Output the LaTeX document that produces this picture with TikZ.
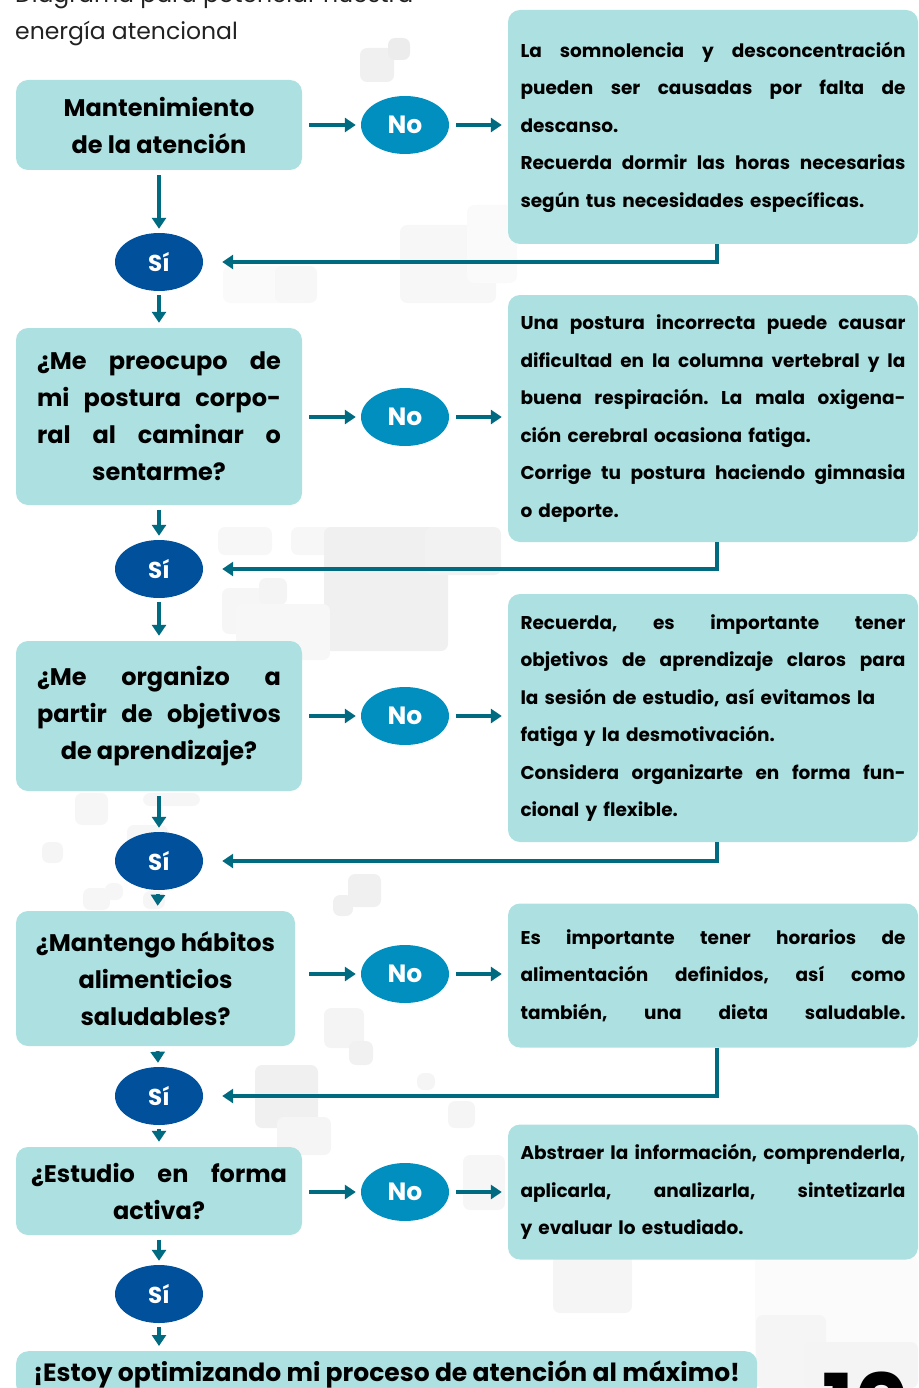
\documentclass[tikz,border=0pt]{standalone}
\usepackage{fontspec}
\setmainfont{Poppins}
\usetikzlibrary{shapes.geometric,arrows.meta}

\definecolor{boxfill}{HTML}{ACE0E1}
\definecolor{nofill}{HTML}{008FBF}
\definecolor{sifill}{HTML}{00509B}
\definecolor{flowcol}{HTML}{006A80}
\definecolor{titlecol}{HTML}{222222}

\frenchspacing
\newcommand{\fullline}[2][385pt]{\makebox[#1][s]{\spaceskip=0pt\xspaceskip=0pt #2}}

\tikzset{
question/.style={fill=boxfill,rounded corners=12pt,inner sep=0pt,align=center,font=\fontsize{24}{37}\selectfont\bfseries},
advice/.style={fill=boxfill,rounded corners=12pt,inner xsep=12.5pt,inner ysep=0pt,text width=385pt,align=left,font=\fontsize{18.5}{37.5}\selectfont\bfseries},
nobub/.style={ellipse,fill=nofill,minimum width=88pt,minimum height=58pt,inner sep=0pt,text=white,font=\fontsize{25}{30}\selectfont\bfseries},
sibub/.style={nobub,fill=sifill,font=\fontsize{23}{30}\selectfont\bfseries},
flow/.style={draw=flowcol,line width=4pt,-{Triangle[length=11pt,width=14pt]}}
}

\begin{document}
\begin{tikzpicture}[x=1pt,y=-1pt]
\useasboundingbox (0,0) rectangle (918,1388);

% background squares
\foreach \x/\y/\w/\h/\g in {360/48/34/34/12, 388/38/22/22/15,
400/225/96/78/6, 467/205/50/78/4, 223/266/65/37/4, 275/266/42/37/6,
218/527/54/28/6, 291/527/50/28/6, 324/527/124/124/12, 425/527/76/48/10,
222/588/46/46/7, 259/578/28/27/9, 236/604/94/56/6,
75/793/33/32/7, 143/793/57/13/7, 42/842/21/21/8, 127/825/41/30/7,
83/888/27/22/7, 105/883/18/17/7, 143/891/22/18/7,
348/874/33/33/12, 333/895/20/21/12, 324/1008/40/40/9, 349/1041/24/24/11,
255/1065/63/63/12, 277/1117/54/38/8, 417/1073/18/17/8, 448/1101/27/27/8,
463/1155/42/55/7, 553/1255/79/58/8,
755/1255/163/133/3, 756/1315/70/73/8, 804/1342/114/46/9}
{
\fill[gray!\g,rounded corners=7pt] (\x,\y) rectangle ++(\w,\h);
}

\node[anchor=base west,inner sep=0pt,text=titlecol,font=\fontsize{23.5}{26}\selectfont] (title) at (15,3) {Diagrama para potenciar nuestra};
\node[anchor=base west,inner sep=0pt,text=titlecol,font=\fontsize{23.5}{26}\selectfont] (title2) at (15,40) {energía atencional};

% left column
\node[question,minimum width=286pt,minimum height=90pt] (q1) at (159,125) {Mantenimiento\\de la atención};
\node[question,minimum width=286pt,minimum height=177pt] (q2) at (159,416.5) {\fullline[244pt]{¿Me preocupo de}\\\fullline[244pt]{mi postura corpo-}\\\fullline[244pt]{ral al caminar o}\\sentarme?};
\node[question,minimum width=286pt,minimum height=150pt] (q3) at (159,716) {\fullline[244pt]{¿Me organizo a}\\\fullline[244pt]{partir de objetivos}\\de aprendizaje?};
\node[question,minimum width=279pt,minimum height=135pt] (q4) at (155.5,978.5) {¿Mantengo hábitos\\alimenticios\\saludables?};
\node[question,minimum width=286pt,minimum height=88pt] (q5) at (159,1191) {\fullline[256pt]{¿Estudio en forma}\\activa?};
\node[question,minimum width=741pt,minimum height=46pt,anchor=north west,font=\fontsize{25}{30}\selectfont\bfseries] (end) at (16,1351) {¡Estoy optimizando mi proceso de atención al máximo!};

% Si / No
\foreach \i/\y in {1/262,2/569,3/861,4/1096,5/1294}
\node[sibub] (s\i) at (159,\y) {Sí};
\foreach \i/\y in {1/125,2/417,3/716,4/974,5/1192}
\node[nobub] (n\i) at (405,\y) {No};

% right column
\node[advice,minimum height=234pt] (a1) at (713,127) {\fullline{La somnolencia y desconcentración}\\\fullline{pueden ser causadas por falta de}\\descanso.\\\fullline{Recuerda dormir las horas necesarias}\\según tus necesidades específicas.};
\node[advice,minimum height=247pt] (a2) at (713,418.5) {\fullline{Una postura incorrecta puede causar}\\\fullline{dificultad en la columna vertebral y la}\\\fullline{buena respiración. La mala oxigena-}\\ción cerebral ocasiona fatiga.\\\fullline{Corrige tu postura haciendo gimnasia}\\o deporte.};
\node[advice,minimum height=248pt] (a3) at (713,718) {\fullline{Recuerda, es importante tener}\\\fullline{objetivos de aprendizaje claros para}\\la sesión de estudio, así evitamos la\\fatiga y la desmotivación.\\\fullline{Considera organizarte en forma fun-}\\cional y flexible.};
\node[advice,minimum height=144pt] (a4) at (713,975.5) {\fullline{Es importante tener horarios de}\\\fullline{alimentación definidos, así como}\\\fullline{también, una dieta saludable.}};
\node[advice,minimum height=135pt] (a5) at (713,1192) {\fullline{Abstraer la información, comprenderla,}\\\fullline{aplicarla, analizarla, sintetizarla}\\y evaluar lo estudiado.};

\node[anchor=base,inner sep=0pt,font=\fontsize{84}{84}\selectfont\bfseries] (pagenum) at (866,1434) {10};

% connectors
\foreach \i/\gap in {1/7,2/7,3/7,4/14,5/7}
{
\draw[flow,shorten <=\gap pt,shorten >=5pt] (q\i.east |- n\i) -- (n\i);
\draw[flow,shorten <=7pt,shorten >=6pt] (n\i) -- (a\i.west |- n\i);
\draw[flow,shorten <=5pt,shorten >=4pt] (q\i) -- (s\i);
}
\foreach \i/\j in {1/2,2/3,3/4,4/5}
{
\draw[flow,shorten <=4pt,shorten >=5pt] (s\i) -- (q\j);
\draw[flow,shorten >=19pt] ([xshift=4pt]a\i.south) |- (s\i);
}
\draw[flow,shorten <=4pt,shorten >=5pt] (s5) -- (s5 |- end.north);

\end{tikzpicture}
\end{document}
